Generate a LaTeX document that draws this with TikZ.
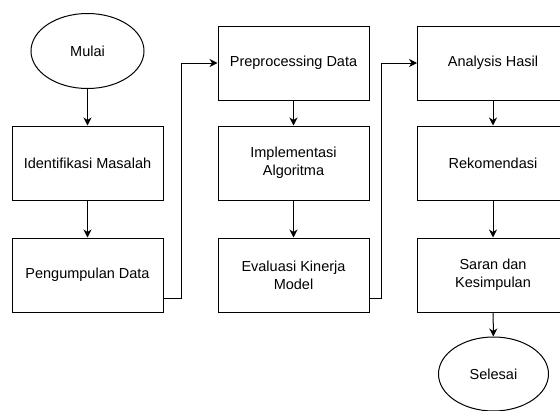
\documentclass[tikz,border=0pt]{standalone}
\usepackage{fontspec}
\setmainfont{Liberation Sans}
\usepackage{tikz}
\usetikzlibrary{shapes.geometric,arrows.meta}

\tikzset{
  box/.style={draw,line width=1pt,minimum width=151pt,minimum height=74pt,
    align=center,font=\fontsize{14.5}{18}\selectfont},
  terminal/.style={draw,ellipse,line width=1pt,inner sep=0pt,
    font=\fontsize{14.5}{18}\selectfont},
  arr/.style={-{Stealth[length=8pt,width=8pt,inset=2.5pt]},line width=1pt}
}

\begin{document}
\begin{tikzpicture}[x=1pt,y=-1pt]
    \useasboundingbox (0,0) rectangle (560,410);
    \clip (0,0) rectangle (560,410);
    \node [terminal,minimum width=113pt,minimum height=75pt] (mulai) at (87.5,51) {Mulai};
    \node [box] (identifikasi) at (87.5,163) {Identifikasi Masalah};
    \node [box] (pengumpulan) at (87.5,275) {Pengumpulan Data};
    \node [box] (prepro) at (293.5,63) {Preprocessing Data};
    \node [box] (implementasi) at (293.5,163) {Implementasi\\Algoritma};
    \node [box] (evaluasi) at (293.5,275) {Evaluasi Kinerja\\Model};
    \node [box] (analisis) at (493,63) {Analysis Hasil};
    \node [box] (rekomendasi) at (493,163) {Rekomendasi};
    \node [box] (saran) at (493,275) {Saran dan\\Kesimpulan};
    \node [terminal,minimum width=110pt,minimum height=74pt] (selesai) at (493.5,374) {Selesai};
    \draw[arr] (mulai) -- (identifikasi);
    \draw[arr] (identifikasi) -- (pengumpulan);
    \draw[arr] ([yshift=14pt]pengumpulan.south east) -- ++(18,0) |- (prepro.west);
    \draw[arr] (prepro) -- (implementasi);
    \draw[arr] (implementasi) -- (evaluasi);
    \draw[arr] ([yshift=14pt]evaluasi.south east) -- ++(12,0) |- (analisis.west);
    \draw[arr] (analisis) -- (rekomendasi);
    \draw[arr] (rekomendasi) -- (saran);
    \draw[arr] (saran) -- (selesai);
\end{tikzpicture}
\end{document}
